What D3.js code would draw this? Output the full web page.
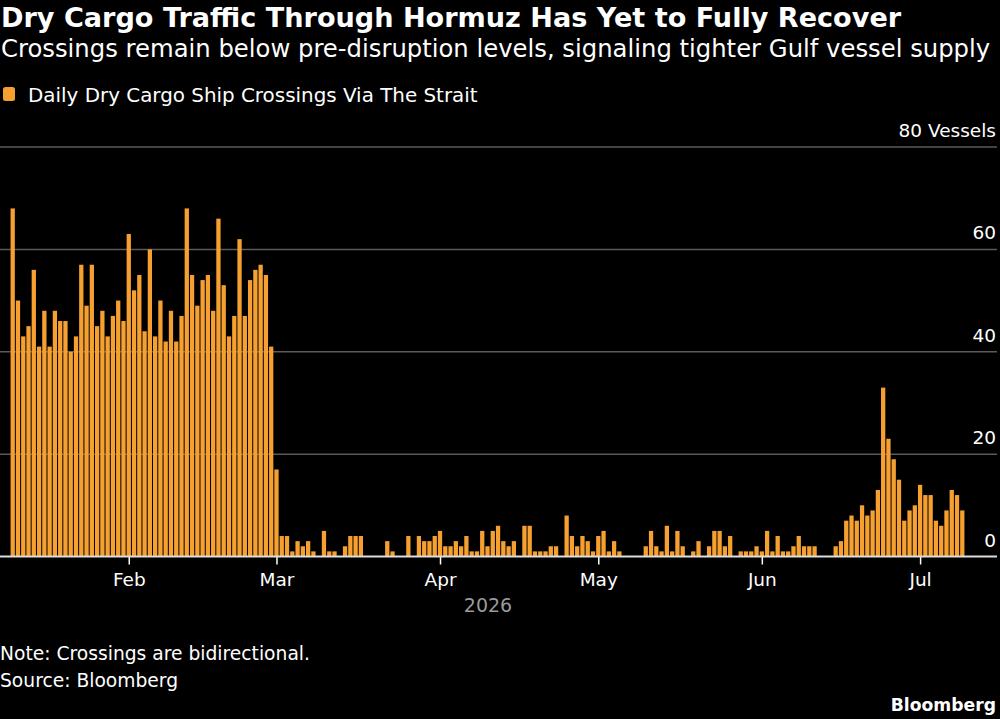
<!DOCTYPE html>
<meta charset="utf-8">
<style>
    body { margin: 0; background: #000; }
    svg { display: block; }
    text { font-family: "DejaVu Sans", sans-serif; fill: #fff; }
    .grid line { stroke: #5a5a5a; stroke-width: 1.5; }
    .bar { fill: #f5a030; }
</style>
<body>
<script src="https://cdnjs.cloudflare.com/ajax/libs/d3/7.8.5/d3.min.js"></script>
<script>
    // daily crossings, one value per day starting Jan 10, 2026
    const startDay = "2026-01-10";
    const crossings = [
        68, 50, 43, 45, 56, 41, 48, 41, 48, 46,
        46, 40, 43, 57, 49, 57, 45, 48, 43, 47,
        50, 46, 63, 52, 55, 44, 60, 43, 50, 42,
        48, 42, 47, 68, 55, 49, 54, 55, 48, 66,
        53, 43, 47, 62, 47, 54, 56, 57, 55, 41,
        17, 4, 4, 1, 3, 2, 3, 1, 0, 5,
        1, 1, 0, 2, 4, 4, 4, 0, 0, 0,
        0, 3, 1, 0, 0, 4, 0, 4, 3, 3,
        4, 5, 2, 2, 3, 2, 4, 1, 1, 5,
        2, 5, 6, 3, 2, 3, 0, 6, 6, 1,
        1, 1, 2, 2, 0, 8, 4, 2, 4, 3,
        1, 4, 5, 1, 3, 1, 0, 0, 0, 0,
        2, 5, 2, 1, 6, 1, 5, 2, 0, 1,
        3, 0, 2, 5, 5, 2, 4, 0, 1, 1,
        1, 2, 1, 5, 1, 4, 1, 1, 2, 4,
        2, 2, 2, 0, 0, 0, 2, 3, 7, 8,
        7, 10, 8, 9, 13, 33, 23, 19, 15, 7,
        9, 10, 14, 12, 12, 7, 6, 9, 13, 12,
        9
    ];
    const yTicks = [0, 20, 40, 60, 80];
    const monthTicks = ["2026-02-01", "2026-03-01", "2026-04-01", "2026-05-01", "2026-06-01", "2026-07-01"];

    const W = 1000, H = 719;
    const parse = d3.utcParse("%Y-%m-%d");
    const t0 = parse(startDay);
    const data = crossings.map((v, i) => ({ date: d3.utcDay.offset(t0, i), value: v }));

    const x = d3.scaleUtc()
        .domain([data[0].date, data[data.length - 1].date])
        .range([12.7, 962.3]);
    const y = d3.scaleLinear().domain([0, 80]).range([556.5, 147]);
    const dayW = x(d3.utcDay.offset(t0, 1)) - x(t0);

    const svg = d3.select("body").append("svg")
        .attr("width", W)
        .attr("height", H);

    // titles
    svg.append("text").attr("x", 1).attr("y", 27)
        .style("font-size", "27.1px").style("font-weight", "bold")
        .text("Dry Cargo Traffic Through Hormuz Has Yet to Fully Recover");
    svg.append("text").attr("x", 1).attr("y", 57)
        .style("font-size", "24.3px")
        .text("Crossings remain below pre-disruption levels, signaling tighter Gulf vessel supply");

    // legend
    svg.append("rect").attr("x", 3).attr("y", 87).attr("width", 12).attr("height", 14)
        .attr("rx", 2.5).attr("class", "bar");
    svg.append("text").attr("x", 28).attr("y", 102)
        .style("font-size", "19.9px")
        .text("Daily Dry Cargo Ship Crossings Via The Strait");

    // gridlines + labels
    const grid = svg.append("g").attr("class", "grid");
    grid.selectAll("line")
        .data(yTicks.filter(d => d > 0))
        .enter().append("line")
        .attr("x1", 0).attr("x2", 997)
        .attr("y1", d => y(d)).attr("y2", d => y(d));
    svg.selectAll(".ylab")
        .data(yTicks)
        .enter().append("text")
        .attr("class", "ylab")
        .attr("x", 996)
        .attr("y", d => y(d) - 10)
        .attr("text-anchor", "end")
        .style("font-size", "18.5px")
        .text(d => d === 80 ? "80 Vessels" : d);

    // bars
    svg.selectAll(".bar-d")
        .data(data)
        .enter().append("rect")
        .attr("class", "bar")
        .attr("x", d => x(d.date) - dayW / 2 + 0.5)
        .attr("width", dayW - 1)
        .attr("y", d => y(d.value))
        .attr("height", d => y(0) - y(d.value));

    // x axis
    const xAxis = d3.axisBottom(x)
        .tickValues(monthTicks.map(parse))
        .tickFormat(d3.utcFormat("%b"))
        .tickSize(8)
        .tickPadding(8);
    const gx = svg.append("g")
        .attr("transform", "translate(0," + y(0) + ")")
        .call(xAxis);
    gx.select(".domain").remove();
    gx.selectAll(".tick line").attr("stroke", "#fff").attr("stroke-width", 1.5);
    gx.selectAll(".tick text")
        .attr("fill", "#fff")
        .style("font-family", "\"DejaVu Sans\", sans-serif")
        .style("font-size", "18.5px");
    svg.append("line")
        .attr("x1", 0).attr("x2", 997)
        .attr("y1", y(0)).attr("y2", y(0))
        .attr("stroke", "#ddd").attr("stroke-width", 2);

    svg.append("text").attr("x", 488).attr("y", 612)
        .attr("text-anchor", "middle")
        .style("font-size", "19px").style("fill", "#9a9a9a")
        .text("2026");

    // footer
    svg.append("text").attr("x", 0).attr("y", 660)
        .style("font-size", "18.7px")
        .text("Note: Crossings are bidirectional.");
    svg.append("text").attr("x", 0).attr("y", 687)
        .style("font-size", "18.7px")
        .text("Source: Bloomberg");
    svg.append("text").attr("x", 996).attr("y", 711)
        .attr("text-anchor", "end")
        .style("font-size", "17.2px").style("font-weight", "bold")
        .text("Bloomberg");
</script>
</body>
